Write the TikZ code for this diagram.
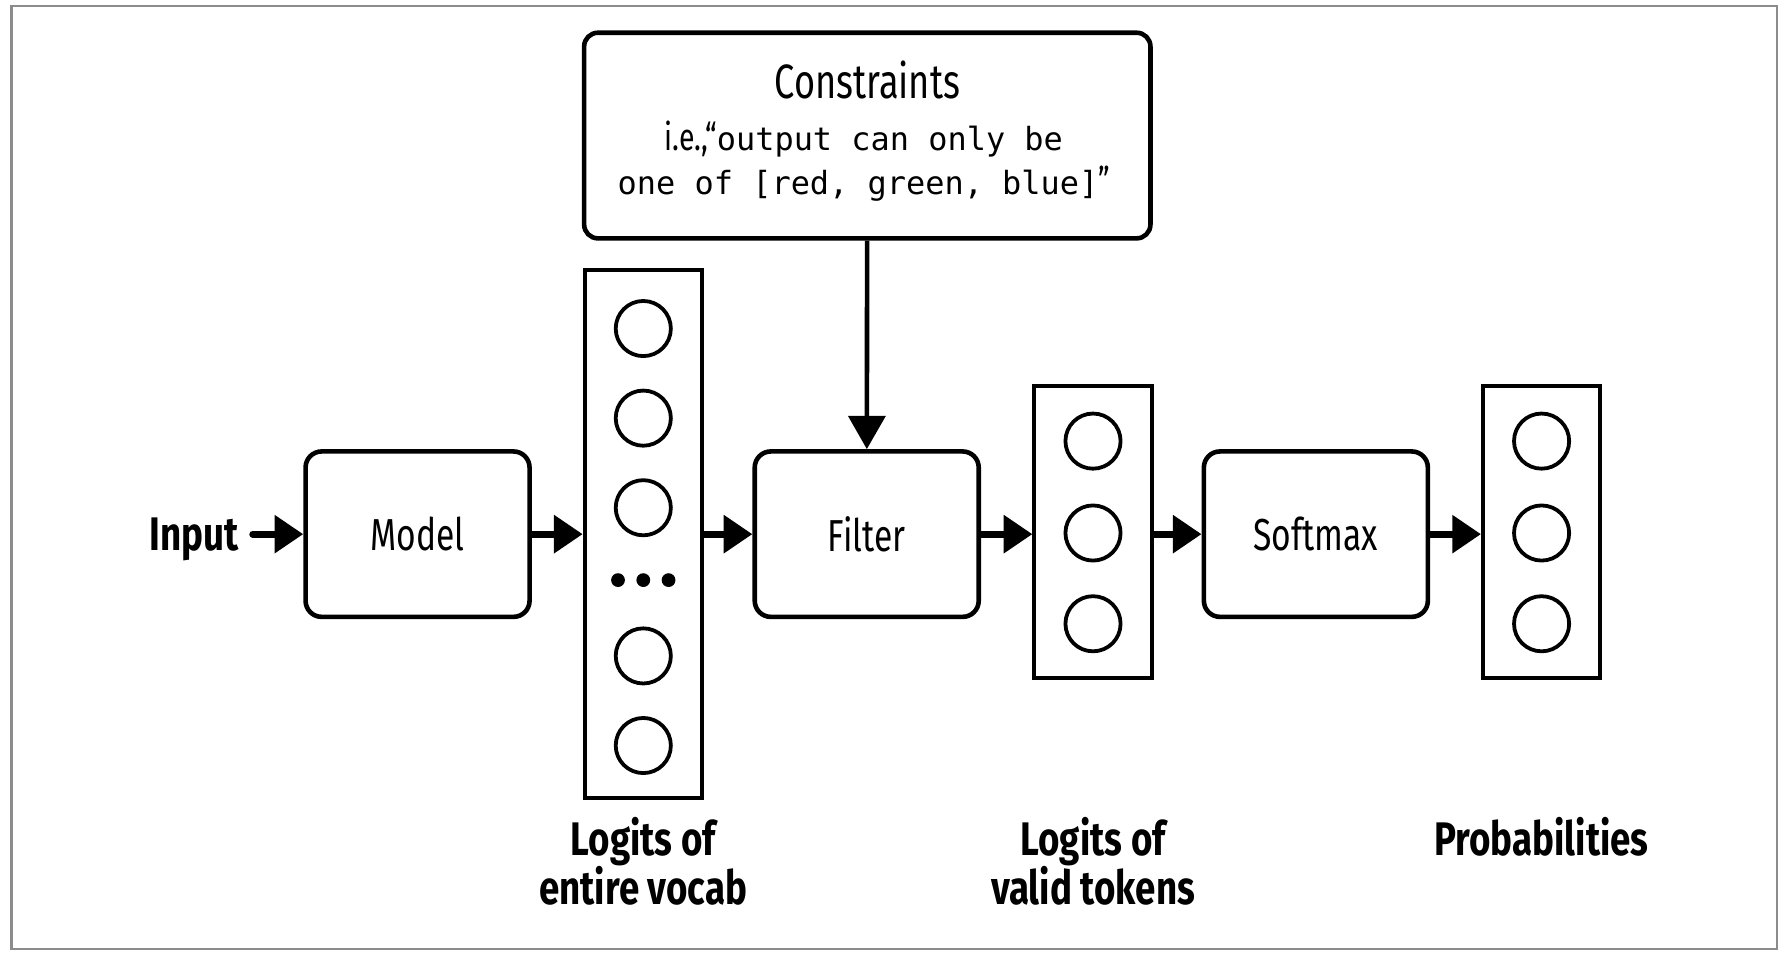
\documentclass[tikz,border=0pt]{standalone}
\usepackage{fontspec}
\setmainfont{Fira Sans}
\newfontfamily\blockfont{Fira Sans}[FakeStretch=0.75]
\newfontfamily\tagfont{Fira Sans}[FakeStretch=0.78]
\newfontfamily\codefont{DejaVu Sans Mono}
\usepackage{tikz}
\usetikzlibrary{positioning}
\usetikzlibrary{arrows.meta}

\tikzset{
  block/.style={draw, line width=4pt, rounded corners=14pt, minimum width=195pt,
    minimum height=144pt, inner sep=0pt, font=\blockfont\fontsize{39}{47}\selectfont},
  column/.style={draw, line width=3.5pt, minimum width=102pt, inner sep=0pt},
  unit/.style={circle, draw, line width=3.3pt, minimum size=48pt, inner sep=0pt},
  dot/.style={circle, fill, minimum size=12pt, inner sep=0pt},
  flow/.style={line width=6pt, -{Triangle[length=25pt,width=32pt]}},
  drop/.style={line width=4pt, -{Triangle[length=29pt,width=32pt]}},
  tag/.style={font=\tagfont\bfseries\fontsize{41}{39}\selectfont, align=center, inner sep=0pt},
}

\begin{document}
\begin{tikzpicture}[x=1pt, y=-1pt]
\useasboundingbox (0,0) rectangle (1560,829);
\draw[line width=2pt, black!45] (10,5) rectangle (1547,826);
% Constraints box
\node[block, minimum width=493pt, minimum height=179pt, rounded corners=12pt] (cons) at (755,118) {};
\node[anchor=base, font=\blockfont\fontsize{42}{50}\selectfont] (constitle) at (755,86) {Constraints};
\node[anchor=base] (consline1) at (752,131) {{\blockfont\fontsize{33}{38}\selectfont i.e.,“}{\codefont\fontsize{27.8}{33}\selectfont output can only be}};
\node[anchor=base] (consline2) at (752,169) {{\codefont\fontsize{27.8}{33}\selectfont one of [red, green, blue]}{\blockfont\fontsize{33}{38}\selectfont ”}};
% Input and model
\node[tag, anchor=east, inner xsep=12pt, text height=28pt, text depth=0pt] (input) at (220,465) {Input};
\node[block] (model) at (363.5,465) {Model};
% Logits of entire vocab
\node[column, minimum height=460pt] (vocab) at (560,465) {};
\node[unit] (v1) at (560,286) {};
\node[unit] (v2) at (560,364) {};
\node[unit] (v3) at (560,442) {};
\node[dot] (d1) at (538,505) {};
\node[dot] (d2) at (560,505) {};
\node[dot] (d3) at (582,505) {};
\node[unit] (v4) at (560,571) {};
\node[unit] (v5) at (560,649) {};
\node[tag, anchor=north] (vocabtag) at (560,711) {Logits of\\entire vocab};
% Filter
\node[block] (filter) at (754.5,465) {Filter};
% Logits of valid tokens
\node[column, minimum height=254pt] (valid) at (951.5,463) {};
\node[unit] (t1) at (951.5,384) {};
\node[unit] (t2) at (951.5,464) {};
\node[unit] (t3) at (951.5,543) {};
\node[tag, anchor=north] (validtag) at (951.5,711) {Logits of\\valid tokens};
% Softmax
\node[block] (softmax) at (1145.5,465) {Softmax};
% Probabilities
\node[column, minimum height=254pt] (prob) at (1342,463) {};
\node[unit] (p1) at (1342,384) {};
\node[unit] (p2) at (1342,464) {};
\node[unit] (p3) at (1342,543) {};
\node[tag, anchor=north] (probtag) at (1342,711) {Probabilities};
% arrows
\draw[flow, line cap=round] (input) -- (model);
\draw[flow] (model) -- (vocab);
\draw[flow] (vocab) -- (filter);
\draw[flow] (filter.east) -- (filter.east -| valid.west);
\draw[flow] (valid.east |- softmax.west) -- (softmax.west);
\draw[flow] (softmax.east) -- (softmax.east -| prob.west);
\draw[drop] (cons) -- (filter);
\end{tikzpicture}
\end{document}
